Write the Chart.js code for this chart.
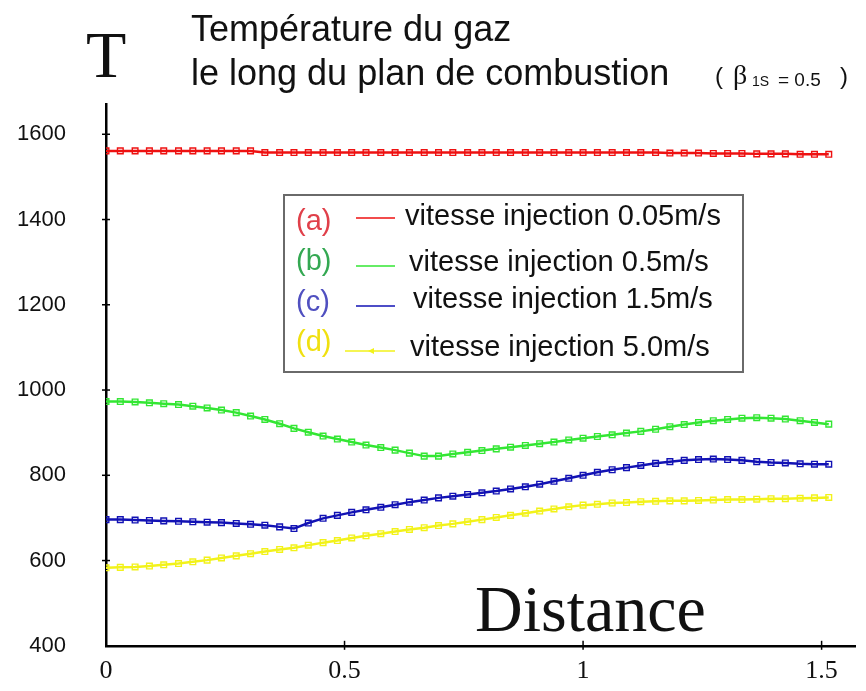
<!DOCTYPE html>
<html>
<head>
<meta charset="utf-8">
<script src="https://cdn.jsdelivr.net/npm/chart.js@4.4.1/dist/chart.umd.min.js"></script>
<style>
  html, body { margin: 0; padding: 0; background: #fff; }
  canvas { display: block; }
</style>
</head>
<body>
<canvas id="chart" width="866" height="691"></canvas>
<script>
// Distance along the combustion plane
const distance = [0, 0.030, 0.061, 0.091, 0.121, 0.152, 0.182, 0.212, 0.242, 0.273,
  0.303, 0.333, 0.364, 0.394, 0.424, 0.455, 0.485, 0.515, 0.545, 0.576,
  0.606, 0.636, 0.667, 0.697, 0.727, 0.758, 0.788, 0.818, 0.848, 0.879,
  0.909, 0.939, 0.970, 1.000, 1.030, 1.061, 1.091, 1.121, 1.152, 1.182,
  1.212, 1.242, 1.273, 1.303, 1.333, 1.364, 1.394, 1.424, 1.455, 1.485, 1.515];

// (a) 0.05 m/s
const tempA = [1561, 1561, 1561, 1561, 1561, 1561, 1561, 1561, 1561, 1561,
  1561, 1557, 1557, 1557, 1557, 1557, 1557, 1557, 1557, 1557,
  1557, 1557, 1557, 1557, 1557, 1557, 1557, 1557, 1557, 1557,
  1557, 1557, 1557, 1557, 1557, 1557, 1557, 1557, 1557, 1556,
  1556, 1556, 1555, 1555, 1555, 1554, 1554, 1554, 1553, 1553, 1553];
// (b) 0.5 m/s
const tempB = [973, 973, 972, 970, 968, 966, 962, 958, 953, 947,
  939, 931, 921, 910, 901, 892, 885, 878, 871, 865,
  859, 852, 845, 845, 850, 854, 858, 862, 866, 870,
  874, 878, 883, 887, 891, 895, 899, 903, 908, 914,
  919, 924, 928, 931, 934, 935, 934, 932, 928, 924, 920];
// (c) 1.5 m/s
const tempC = [696, 696, 695, 694, 693, 692, 691, 690, 689, 687,
  685, 683, 679, 675, 688, 699, 706, 713, 719, 725,
  731, 737, 742, 747, 751, 755, 759, 763, 768, 773,
  779, 786, 793, 800, 807, 813, 818, 823, 828, 832,
  835, 837, 838, 837, 835, 832, 830, 829, 827, 826, 826];
// (d) 5.0 m/s
const tempD = [583, 584, 585, 587, 590, 593, 597, 601, 606, 611,
  616, 621, 626, 630, 636, 642, 647, 653, 658, 663,
  668, 673, 677, 682, 686, 691, 696, 701, 706, 711,
  716, 721, 726, 730, 732, 735, 736, 738, 739, 740,
  740, 741, 742, 743, 743, 744, 745, 745, 746, 747, 748];

const yTicks = [400, 600, 800, 1000, 1200, 1400, 1600];
const xTicks = [0, 0.5, 1, 1.5];
const legendTags = ['(a)', '(b)', '(c)', '(d)'];
const legendLabels = ['vitesse injection 0.05m/s', 'vitesse injection 0.5m/s',
  'vitesse injection 1.5m/s', 'vitesse injection 5.0m/s'];

const lineColors = ['#ee1111', '#33e633', '#1212b4', '#f2f21a'];
const tagColors = ['#e0404a', '#34a852', '#5050c0', '#f0e010'];

const series = [tempA, tempB, tempC, tempD];

function makeSet(values, i) {
  return {
    label: legendLabels[i],
    data: values.map((v, k) => ({ x: distance[k], y: v })),
    borderColor: lineColors[i],
    borderWidth: 2.5,
    pointStyle: 'rect',
    pointRadius: 4,
    pointBorderWidth: 1.4,
    pointBorderColor: lineColors[i],
    pointBackgroundColor: 'rgba(255,255,255,0)',
    tension: 0,
  };
}

// Titles, legend box, tick crosses
const decor = {
  id: 'decor',
  afterDatasetsDraw(chart) {
    const { ctx, scales } = chart;
    const xs = scales.x, ys = scales.y;
    ctx.save();

    // tick crosses
    ctx.strokeStyle = '#000';
    ctx.lineWidth = 1.5;
    yTicks.forEach(v => {
      const py = ys.getPixelForValue(v);
      if (v === 400) return;
      ctx.beginPath();
      ctx.moveTo(xs.left - 4, py);
      ctx.lineTo(xs.left + 4, py);
      ctx.stroke();
    });
    xTicks.forEach(v => {
      if (v === 0) return;
      const px = xs.getPixelForValue(v);
      ctx.beginPath();
      ctx.moveTo(px, ys.bottom - 5);
      ctx.lineTo(px, ys.bottom + 4);
      ctx.stroke();
    });

    ctx.fillStyle = '#111';
    ctx.textBaseline = 'alphabetic';
    ctx.textAlign = 'left';
    ctx.font = '66px "Liberation Serif"';
    ctx.fillText('T', 86, 77);

    ctx.font = '36px "Liberation Sans"';
    ctx.fillText('Température du gaz', 191, 41);
    ctx.fillText('le long du plan de combustion', 191, 85);

    ctx.font = '24px "Liberation Sans"';
    ctx.fillText('(', 715, 84);
    ctx.fillText(')', 840, 84);
    ctx.font = '28px "Liberation Serif"';
    ctx.fillText('β', 733, 84);
    ctx.font = '14px "Liberation Sans"';
    ctx.fillText('1S', 752, 86);
    ctx.font = '19px "Liberation Sans"';
    ctx.fillText('= 0.5', 778, 86);

    ctx.font = '66px "Liberation Serif"';
    ctx.fillText('Distance', 475, 631);

    // legend box
    ctx.strokeStyle = '#6a6a6a';
    ctx.lineWidth = 2;
    ctx.strokeRect(284, 195, 459, 177);

    const tagY = [222, 262, 303, 343];
    const labX = [405, 409, 413, 410];
    const labY = [217, 263, 300, 348];
    const lineY = [218, 266, 306, 351];
    ctx.textBaseline = 'middle';
    ctx.font = '29px "Liberation Sans"';
    for (let i = 0; i < 4; i++) {
      ctx.fillStyle = tagColors[i];
      ctx.fillText(legendTags[i], 296, tagY[i]);
      ctx.strokeStyle = lineColors[i];
      ctx.lineWidth = 1.5;
      ctx.beginPath();
      ctx.moveTo(i === 3 ? 345 : 356, lineY[i]);
      ctx.lineTo(395, lineY[i]);
      ctx.stroke();
      ctx.fillStyle = '#111';
      ctx.fillText(legendLabels[i], labX[i], labY[i]);
    }
    // little arrow on (d)
    ctx.fillStyle = lineColors[3];
    ctx.beginPath();
    ctx.moveTo(368, lineY[3]);
    ctx.lineTo(374, lineY[3] - 3);
    ctx.lineTo(374, lineY[3] + 3);
    ctx.closePath();
    ctx.fill();

    ctx.restore();
  }
};

new Chart(document.getElementById('chart'), {
  type: 'line',
  data: { datasets: series.map(makeSet) },
  options: {
    responsive: false,
    animation: false,
    layout: { padding: { top: 104, right: 11, left: 0, bottom: -2 } },
    plugins: {
      legend: { display: false },
      tooltip: { enabled: false },
    },
    scales: {
      x: {
        type: 'linear',
        min: 0,
        max: 1.57,
        afterFit: s => { s.height = 33; },
        afterBuildTicks: s => { s.ticks = xTicks.map(v => ({ value: v })); },
        grid: { display: false },
        border: { color: '#000', width: 2.5 },
        ticks: {
          color: '#111',
          padding: 2,
          maxRotation: 0,
          font: { family: '"Liberation Serif"', size: 26 },
          callback: v => String(v),
        },
      },
      y: {
        type: 'linear',
        min: 400,
        max: 1671,
        afterFit: s => { s.width = 106; },
        afterBuildTicks: s => { s.ticks = yTicks.map(v => ({ value: v })); },
        grid: { display: false },
        border: { color: '#000', width: 2.5 },
        ticks: {
          color: '#111',
          padding: 32,
          font: { family: '"Liberation Sans"', size: 22 },
          callback: v => String(v),
        },
      },
    },
  },
  plugins: [decor],
});
</script>
</body>
</html>
